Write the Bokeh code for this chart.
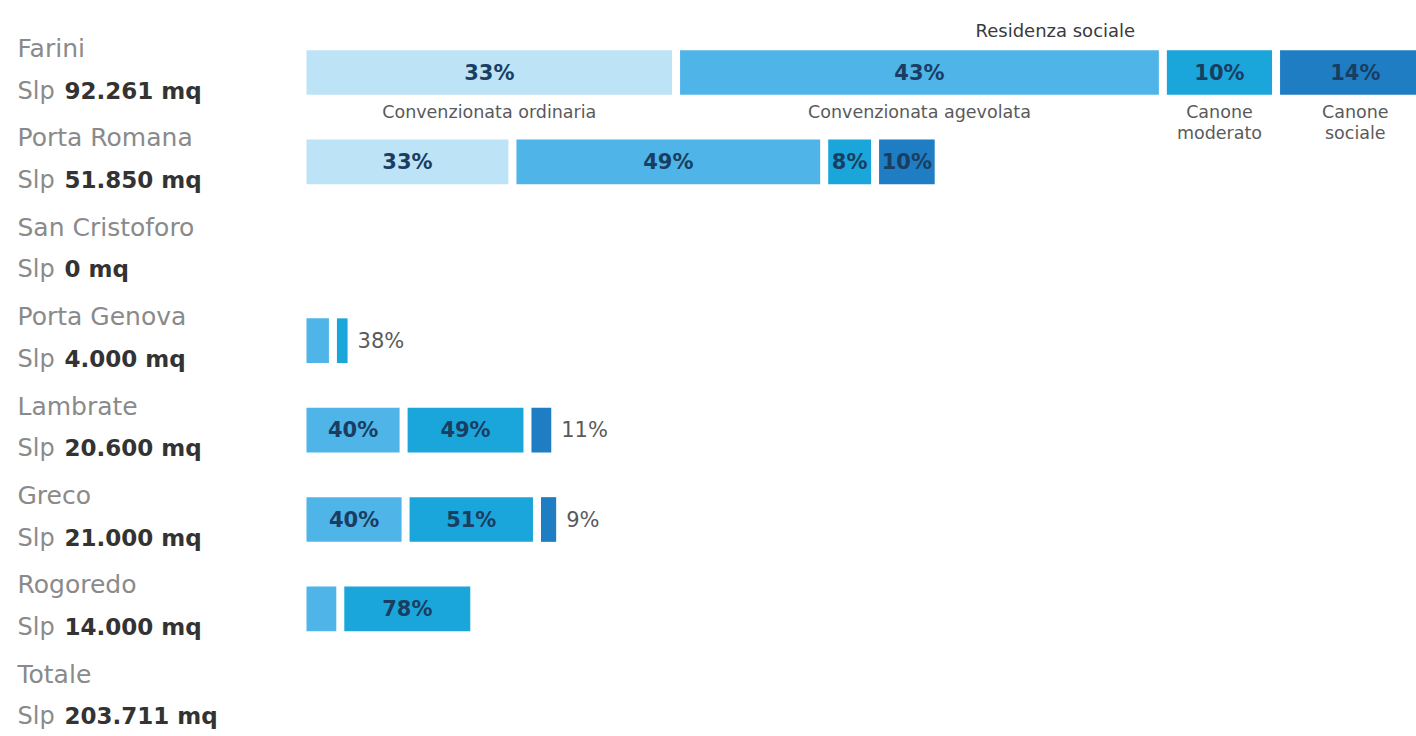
from bokeh.plotting import figure
from bokeh.models import Range1d, ColumnDataSource
from bokeh.core.properties import value
from bokeh.embed import file_html
from bokeh.resources import INLINE

# ---------------- data ----------------
cities = ["Farini", "Porta Romana", "San Cristoforo", "Porta Genova",
          "Lambrate", "Greco", "Rogoredo", "Totale"]
slp_mq = [92261, 51850, 0, 4000, 20600, 21000, 14000, 203711]
slp_text = ["92.261", "51.850", "0", "4.000", "20.600", "21.000", "14.000", "203.711"]

categories = ["Convenzionata ordinaria", "Convenzionata agevolata",
              "Canone moderato", "Canone sociale"]
category_titles = ["Convenzionata ordinaria", "Convenzionata agevolata",
                   "Canone\nmoderato", "Canone\nsociale"]
group_title = "Residenza sociale"

pct_ordinaria = [33, 33, 0, 0, 0, 0, 0, 0]
pct_agevolata = [43, 49, 0, 62, 40, 40, 22, 0]
pct_moderato = [10, 8, 0, 38, 49, 51, 78, 0]
pct_sociale = [14, 10, 0, 0, 11, 9, 0, 0]

# ---------------- style / layout constants ----------------
W, H = 1416, 736
UPX = 81.5            # mq per pixel
X0_PX = 306           # pixel where 0 mq lies
ROW_PX = 89.4         # pixels per row
ROW0_PX = 72          # pixel centre of first row
GAP = 8 * UPX         # gap between segments (data units)
NARROW = 3500         # segments narrower than this (mq) get no inner label
BAR_H = 0.5

colors = ["#bde3f7", "#4fb4e8", "#1ba6db", "#1f7dc3"]
FONT = value("DejaVu Sans")


def sx(px):
    return (px - X0_PX) * UPX


def ry(px):
    return px / ROW_PX


p = figure(width=W, height=H, output_backend="svg", toolbar_location=None,
           x_range=Range1d(sx(0), sx(W)),
           y_range=Range1d((H - ROW0_PX) / ROW_PX, -ROW0_PX / ROW_PX),
           min_border=0, background_fill_color="white",
           border_fill_color="white")
p.axis.visible = False
p.grid.visible = False
p.outline_line_color = None

series = [pct_ordinaria, pct_agevolata, pct_moderato, pct_sociale]

bars = dict(left=[], right=[], y=[], color=[])
inner = dict(x=[], y=[], text=[])
outer = dict(x=[], y=[], text=[])
farini_segments = []

for i, city in enumerate(cities):
    total = slp_mq[i]
    parts = [(k, s[i]) for k, s in enumerate(series) if s[i] > 0]
    cum = 0.0
    for j, (k, pct) in enumerate(parts):
        seg = total * pct / 100.0
        left, right = cum, cum + seg - GAP
        bars["left"].append(left)
        bars["right"].append(right)
        bars["y"].append(i)
        bars["color"].append(colors[k])
        if i == 0:
            farini_segments.append((left, right))
        last = j == len(parts) - 1
        if seg >= NARROW:
            inner["x"].append((left + right) / 2)
            inner["y"].append(i)
            inner["text"].append(f"{pct}%")
        elif last:
            outer["x"].append(right + 10 * UPX)
            outer["y"].append(i)
            outer["text"].append(f"{pct}%")
        cum += seg

p.hbar(y="y", left="left", right="right", height=BAR_H, color="color",
       line_color=None, source=ColumnDataSource(bars))

p.text(x="x", y="y", text="text", source=ColumnDataSource(inner),
       text_font=FONT, text_font_size="21px", text_font_style="bold",
       text_color="#1a3e62", text_align="center", text_baseline="middle")
p.text(x="x", y="y", text="text", source=ColumnDataSource(outer),
       text_font=FONT, text_font_size="21px",
       text_color="#5a5a5a", text_align="left", text_baseline="middle")

# category titles under first row
cx = [(l + r) / 2 for l, r in farini_segments]
p.text(x=cx, y=[0 + ry(29)] * len(cx), text=category_titles,
       text_font=FONT, text_font_size="17.5px", text_color="#5a5a5a",
       text_align="center", text_baseline="top", text_line_height=1.05)
# group title over social housing segments
gx = (farini_segments[1][0] + farini_segments[-1][1]) / 2
p.text(x=[gx], y=[0 - ry(42)], text=[group_title],
       text_font=FONT, text_font_size="18px", text_color="#3a3a3a",
       text_align="center", text_baseline="middle")

# left labels
rows = list(range(len(cities)))
p.text(x=[sx(17)] * len(rows), y=[r - ry(24) for r in rows], text=cities,
       text_font=FONT, text_font_size="25px", text_color="#8a8a8a",
       text_align="left", text_baseline="middle")
p.text(x=[sx(17)] * len(rows), y=[r + ry(18) for r in rows], text=["Slp"] * len(rows),
       text_font=FONT, text_font_size="24px", text_color="#8a8a8a",
       text_align="left", text_baseline="middle")
p.text(x=[sx(64)] * len(rows), y=[r + ry(18) for r in rows],
       text=[f"{t} mq" for t in slp_text],
       text_font=FONT, text_font_size="23px", text_font_style="bold",
       text_color="#333333", text_align="left", text_baseline="middle")

open("out.html", "w").write(file_html(p, INLINE))
